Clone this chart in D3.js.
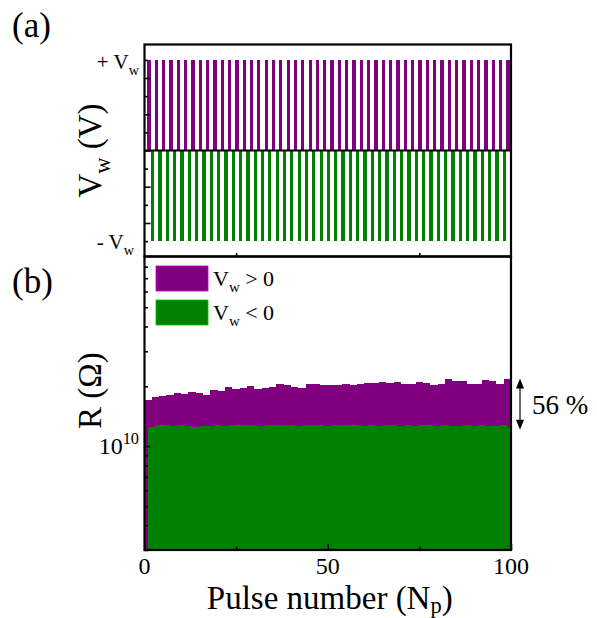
<!DOCTYPE html>
<html><head><meta charset="utf-8">
<script src="https://cdn.jsdelivr.net/npm/d3@7/dist/d3.min.js"></script>
<style>
body{margin:0;background:#fff}
text{font-family:"Liberation Serif","Times New Roman",serif;fill:#000}
</style>
</head><body>
<svg id="chart" width="597" height="618" font-family="Liberation Serif, Times New Roman, serif"></svg>
<script>
// ---------- data ----------
const posPulses = [1,3,5,7,9,11,13,15,17,19,21,23,25,27,29,31,33,35,37,39,41,43,45,47,49,51,53,55,57,59,61,63,65,67,69,71,73,75,77,79,81,83,85,87,89,91,93,95,97,99];
const negPulses = [2,4,6,8,10,12,14,16,18,20,22,24,26,28,30,32,34,36,38,40,42,44,46,48,50,52,54,56,58,60,62,64,66,68,70,72,74,76,78,80,82,84,86,88,90,92,94,96,98,100];
const rUnit = 1e10; // ohm
const rPos = [1.715,1.768,1.782,1.818,1.860,1.824,1.882,1.852,1.818,1.910,
              1.889,1.985,1.933,1.962,2.017,1.948,1.966,1.978,2.048,2.024,
              1.989,1.966,2.060,2.048,2.036,2.036,2.041,2.065,2.041,2.065,
              2.079,2.088,2.113,2.079,2.113,2.065,2.048,2.113,2.088,2.024,
              2.065,2.170,2.128,2.128,2.065,2.065,2.145,2.137,2.065,2.188];
const rNeg = [1.25,1.27,1.27,1.26,1.27,1.26,1.25,1.26,1.26,1.27,
              1.26,1.27,1.28,1.28,1.27,1.26,1.27,1.27,1.28,1.27,
              1.26,1.27,1.28,1.27,1.26,1.27,1.27,1.28,1.27,1.26,
              1.27,1.26,1.27,1.27,1.26,1.27,1.26,1.27,1.27,1.26,
              1.27,1.26,1.26,1.27,1.26,1.27,1.26,1.26,1.27,1.25];
const pulseAmp = 1;           // +Vw / -Vw normalised
const xMajorTicks = [0, 50, 100];
const xTickLabels = ["0", "50", "100"];
const xMinorTicks = [25, 75];
const vMajorTicks = [-0.8, -0.4, 0, 0.4, 0.8];
const vMinorTicks = [-1, -0.6, -0.2, 0.2, 0.6, 1];
const rMajorTicks = [1e10];
const rMinorTicks = [3e9,4e9,5e9,6e9,7e9,8e9,9e9,2e10,3e10,4e10,5e10,6e10,7e10,8e10];
const diffLabel = "56 %";
const colPos = "#800080", colNeg = "#008000";

// ---------- layout ----------
const svg = d3.select("#chart");
const L = 144.5, R = 511, T1 = 44.5, B1 = 256.5, B2 = 550;
const x = d3.scaleLinear().domain([0, 100]).range([L, R]);
const yV = d3.scaleLinear().domain([-1.17, 1.17]).range([B1, T1]);
const yR = d3.scaleLog().domain([3e9, 9e10]).range([B2, B1]);

const defs = svg.append("defs");
defs.append("clipPath").attr("id","clipTop").append("rect")
  .attr("x",L).attr("y",T1).attr("width",R-L).attr("height",B1-T1);
defs.append("clipPath").attr("id","clipBot").append("rect")
  .attr("x",L).attr("y",B1).attr("width",R-L).attr("height",B2-B1);

// ---------- panel (a): pulses ----------
const gA = svg.append("g").attr("clip-path","url(#clipTop)");
const pw = x(0.9) - x(0);
gA.selectAll("rect.p").data(posPulses).join("rect")
  .attr("x", d => x(d - 0.25)).attr("width", pw)
  .attr("y", yV(pulseAmp)).attr("height", yV(0) - yV(pulseAmp))
  .attr("fill", colPos).attr("shape-rendering","crispEdges");
gA.selectAll("rect.n").data(negPulses).join("rect")
  .attr("x", d => x(d - 0.25)).attr("width", pw)
  .attr("y", yV(0)).attr("height", yV(-pulseAmp) - yV(0))
  .attr("fill", colNeg).attr("shape-rendering","crispEdges");
// zero line
svg.append("line").attr("x1",L).attr("x2",R).attr("y1",yV(0)).attr("y2",yV(0))
  .attr("stroke","#000").attr("stroke-width",2.2);

// ---------- panel (b): resistance ----------
const gB = svg.append("g").attr("clip-path","url(#clipBot)");
gB.selectAll("rect.p").data(posPulses).join("rect")
  .attr("x", d => x(d - 1)).attr("width", x(2) - x(0))
  .attr("y", (d,i) => yR(rPos[i]*rUnit)).attr("height", (d,i) => B2 - yR(rPos[i]*rUnit))
  .attr("fill", colPos).attr("shape-rendering","crispEdges");
gB.selectAll("rect.n").data(negPulses).join("rect")
  .attr("x", d => x(d - 1)).attr("width", x(2) - x(0))
  .attr("y", (d,i) => yR(rNeg[i]*rUnit)).attr("height", (d,i) => B2 - yR(rNeg[i]*rUnit))
  .attr("fill", colNeg).attr("shape-rendering","crispEdges");

// ---------- axes / ticks ----------
function ticksG(g){ g.select(".domain").remove(); g.selectAll("text").remove();
  g.selectAll("line").attr("stroke","#000").attr("stroke-width",1.6); }
svg.append("g").attr("transform",`translate(${L},0)`)
  .call(d3.axisLeft(yV).tickValues(vMajorTicks).tickSize(-6)).call(ticksG);
svg.append("g").attr("transform",`translate(${L},0)`)
  .call(d3.axisLeft(yV).tickValues(vMinorTicks).tickSize(-3.5)).call(ticksG);
svg.append("g").attr("transform",`translate(0,${B1})`)
  .call(d3.axisBottom(x).tickValues(xMinorTicks).tickSize(-3.5)).call(ticksG);
svg.append("g").attr("transform",`translate(${L},0)`)
  .call(d3.axisLeft(yR).tickValues(rMajorTicks).tickSize(-6)).call(ticksG);
svg.append("g").attr("transform",`translate(${L},0)`)
  .call(d3.axisLeft(yR).tickValues(rMinorTicks).tickSize(-3.5)).call(ticksG);
svg.append("g").attr("transform",`translate(0,${B2})`)
  .call(d3.axisBottom(x).tickValues(xMajorTicks).tickSize(-6)).call(ticksG);
svg.append("g").attr("transform",`translate(0,${B2})`)
  .call(d3.axisBottom(x).tickValues(xMinorTicks).tickSize(-3.5)).call(ticksG);

// frames
svg.append("rect").attr("x",L).attr("y",T1).attr("width",R-L).attr("height",B1-T1)
  .attr("fill","none").attr("stroke","#000").attr("stroke-width",2.2);
svg.append("rect").attr("x",L).attr("y",B1).attr("width",R-L).attr("height",B2-B1)
  .attr("fill","none").attr("stroke","#000").attr("stroke-width",2.2);

// ---------- text helpers ----------
function subText(g, px, py, parts, size, anchor, rotate){
  const t = g.append("text").attr("font-size", size).attr("text-anchor", anchor||"start");
  if (rotate) t.attr("transform",`translate(${px},${py}) rotate(-90)`);
  else t.attr("x",px).attr("y",py);
  parts.forEach(p => {
    const s = t.append("tspan").text(p.t);
    if (p.sub) s.attr("font-size", size*0.68).attr("dy", size*(p.shift||0.28));
    else if (p.sup) s.attr("font-size", size*0.68).attr("dy", -size*0.42);
    if (p.back) s.attr("dy", p.back);
  });
  return t;
}

// x tick labels
svg.append("g").selectAll("text").data(xMajorTicks).join("text")
  .attr("x", d => x(d)).attr("y", B2 + 24).attr("text-anchor","middle")
  .attr("font-size", 24).text((d,i) => xTickLabels[i]);
// V tick labels
subText(svg, 139, yV(pulseAmp)+9, [{t:"+ V"},{t:"w",sub:true}], 21, "end");
subText(svg, 134, yV(-pulseAmp)+8, [{t:"- V"},{t:"w",sub:true}], 21, "end");
// R tick label
subText(svg, 139, yR(1e10)+8, [{t:"10"},{t:"10",sup:true}], 24, "end");

// axis titles
subText(svg, 101, yV(0), [{t:"V"},{t:"w",sub:true},{t:" (V)",back:-33*0.28}], 33, "middle", true);
svg.append("text").attr("transform",`translate(101,${yR(1.9e10)}) rotate(-90)`)
  .attr("text-anchor","middle").attr("font-size",33).text("R (\u03A9)");
subText(svg, (L+R)/2 + 2, 609, [{t:"Pulse number (N"},{t:"p",sub:true,shift:0.12},{t:")",back:-33*0.12}], 33, "middle");

// panel labels
svg.append("text").attr("x",12).attr("y",37).attr("font-size",35).text("(a)");
svg.append("text").attr("x",12).attr("y",293).attr("font-size",35).text("(b)");

// legend
const legend = [{c:colPos, op:">"},{c:colNeg, op:"<"}];
legend.forEach((l,i) => {
  const yy = 266 + i*34;
  svg.append("rect").attr("x",156).attr("y",yy).attr("width",52).attr("height",25)
    .attr("fill",l.c).attr("stroke",d3.color(l.c).brighter(1.2)).attr("stroke-width",0.8);
  subText(svg, 213, yy+20, [{t:"V"},{t:"w",sub:true},{t:" "+l.op+" 0",back:-22*0.28}], 22, "start");
});

// difference arrow
const ax = 520, yA1 = yR(rPos[rPos.length-1]*rUnit), yA2 = yR(rNeg[rNeg.length-1]*rUnit)+3;
svg.append("line").attr("x1",ax).attr("x2",ax).attr("y1",yA1+6).attr("y2",yA2-6)
  .attr("stroke","#000").attr("stroke-width",1.2);
svg.append("path").attr("d",`M${ax},${yA1} L${ax-4},${yA1+10} L${ax+4},${yA1+10} Z`).attr("fill","#000");
svg.append("path").attr("d",`M${ax},${yA2} L${ax-4},${yA2-10} L${ax+4},${yA2-10} Z`).attr("fill","#000");
svg.append("text").attr("x",532).attr("y",(yA1+yA2)/2+10).attr("font-size",27).text(diffLabel);
</script>
</body></html>
